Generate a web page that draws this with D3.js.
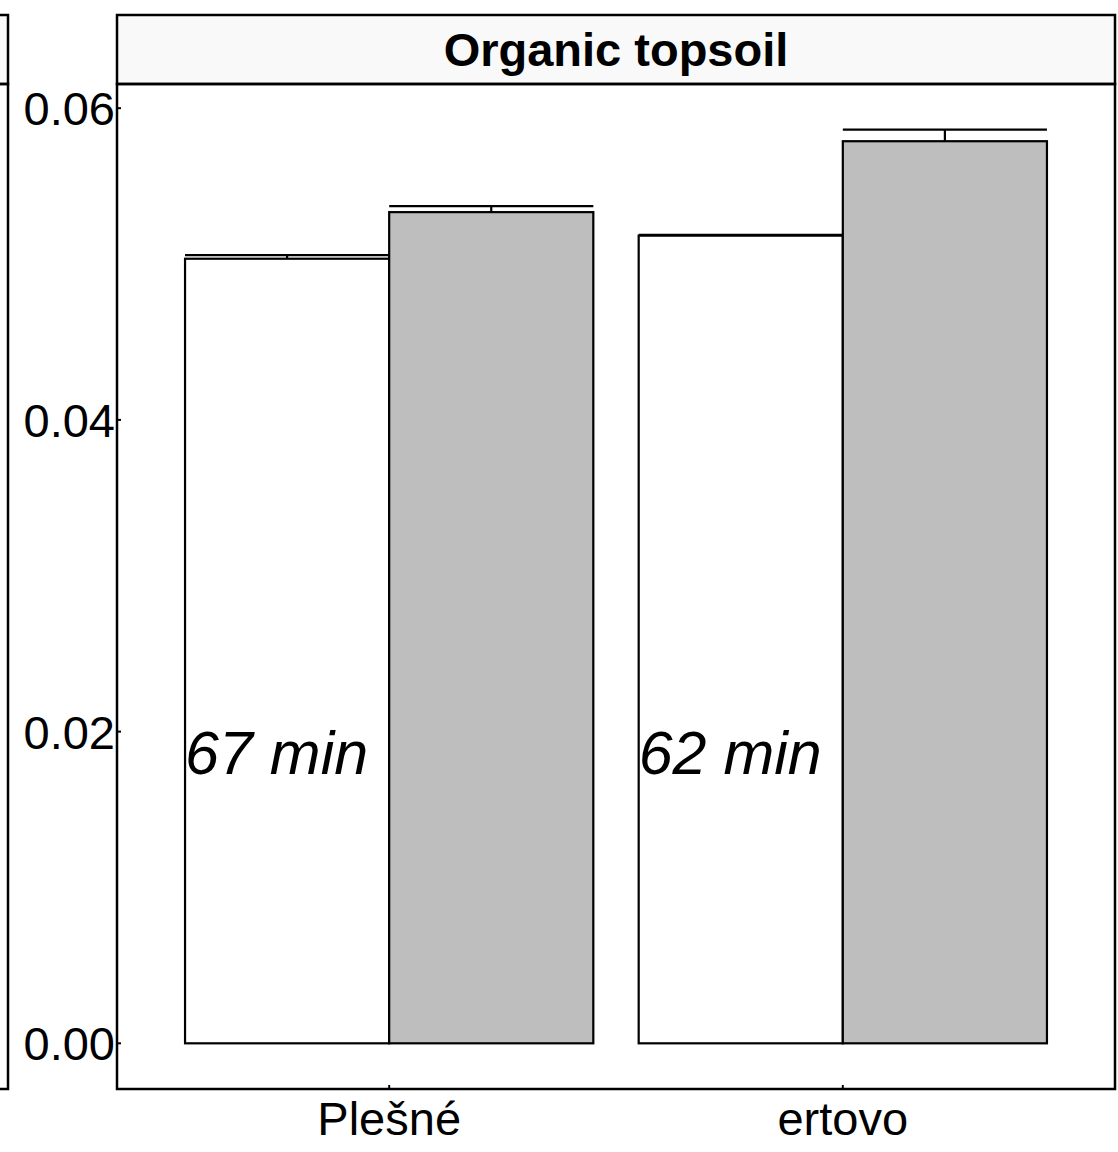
<!DOCTYPE html>
<html>
<head>
<meta charset="utf-8">
<script src="https://cdn.jsdelivr.net/npm/d3@7"></script>
<style>
  html, body { margin: 0; padding: 0; background: #fff; }
  svg { display: block; }
  text { font-family: "Liberation Sans", Arial, Helvetica, sans-serif; fill: #000; }
</style>
</head>
<body>
<svg id="chart" width="1118" height="1152"></svg>
<script>
// Sites on the x axis and the two dodged series per site
const sites = ["Plešné", "ertovo"];
const meansFirst = [0.05034, 0.05182];   // white bars
const seFirst = [0.00023, 0.00006];
const meansSecond = [0.05333, 0.05788];  // grey bars
const seSecond = [0.00038, 0.00074];
const durations = ["67 min", "62 min"];
const durationY = 0.0173;
const yTicks = [0, 0.02, 0.04, 0.06];
const yTickLabels = ["0.00", "0.02", "0.04", "0.06"];
const panelTitle = "Organic topsoil";
const fills = ["#ffffff", "#bebebe"];

const svg = d3.select("#chart");

// Panel geometry
const panel = { left: 117, right: 1115, top: 84, bottom: 1089 };
const strip = { top: 15, bottom: 84 };

// Build the rows that the bars and error bars are drawn from
const rows = [];
sites.forEach((s, i) => {
  rows.push({ site: s, idx: i, series: 0, mean: meansFirst[i], se: seFirst[i] });
  rows.push({ site: s, idx: i, series: 1, mean: meansSecond[i], se: seSecond[i] });
});

const yMax = d3.max(rows, d => d.mean + d.se);
const y = d3.scaleLinear()
  .domain([-0.05 * yMax, 1.05 * yMax])
  .range([panel.bottom, panel.top]);

// Discrete x positions 1..n with 0.6 units of padding on each side
const x = d3.scaleLinear()
  .domain([0.4, sites.length + 0.6])
  .range([panel.left, panel.right]);
const barW = 0.45;

// Dodged bar extents in data units
const pos0 = d => d.idx + 1 + (d.series === 0 ? -barW : 0);
const xLeft = d => x(pos0(d));
const xRight = d => x(pos0(d) + barW);
const xCenter = d => x(pos0(d) + barW / 2);

// Neighbouring facet (only its right edge is visible)
svg.append("rect")
  .attr("x", -100).attr("y", strip.top)
  .attr("width", 108).attr("height", strip.bottom - strip.top)
  .attr("fill", "#f9f9f9").attr("stroke", "#000").attr("stroke-width", 2.5);
svg.append("rect")
  .attr("x", -100).attr("y", panel.top)
  .attr("width", 108).attr("height", panel.bottom - panel.top)
  .attr("fill", "none").attr("stroke", "#000").attr("stroke-width", 2.5);

// Strip with facet title
svg.append("rect")
  .attr("x", panel.left).attr("y", strip.top)
  .attr("width", panel.right - panel.left).attr("height", strip.bottom - strip.top)
  .attr("fill", "#f9f9f9").attr("stroke", "#000").attr("stroke-width", 2.5);
svg.append("text")
  .attr("x", (panel.left + panel.right) / 2)
  .attr("y", (strip.top + strip.bottom) / 2)
  .attr("dy", "0.36em")
  .attr("text-anchor", "middle")
  .attr("font-weight", "bold")
  .attr("font-size", 47)
  .text(panelTitle);

// Error bars (the lower half sits behind the bars)
const eb = svg.append("g").attr("stroke", "#000").attr("stroke-width", 2.2).attr("fill", "none");
eb.selectAll("line.stem").data(rows).join("line").attr("class", "stem")
  .attr("x1", xCenter).attr("x2", xCenter)
  .attr("y1", d => y(d.mean - d.se)).attr("y2", d => y(d.mean + d.se));
eb.selectAll("line.cap").data(rows).join("line").attr("class", "cap")
  .attr("x1", xLeft).attr("x2", xRight)
  .attr("y1", d => y(d.mean + d.se)).attr("y2", d => y(d.mean + d.se));

// Bars
svg.append("g").selectAll("rect").data(rows).join("rect")
  .attr("x", xLeft)
  .attr("width", d => xRight(d) - xLeft(d))
  .attr("y", d => y(d.mean))
  .attr("height", d => y(0) - y(d.mean))
  .attr("fill", d => fills[d.series])
  .attr("stroke", "#000").attr("stroke-width", 2.2);

// Duration labels inside the white bars
svg.append("g").selectAll("text").data(durations).join("text")
  .attr("x", (d, i) => x(i + 1 - barW))
  .attr("y", y(durationY))
  .attr("font-style", "italic")
  .attr("font-size", 61)
  .text(d => d);

// Panel border
svg.append("rect")
  .attr("x", panel.left).attr("y", panel.top)
  .attr("width", panel.right - panel.left).attr("height", panel.bottom - panel.top)
  .attr("fill", "none").attr("stroke", "#000").attr("stroke-width", 2.5);

// Y axis: short inward ticks and labels
const yAxis = svg.append("g");
yAxis.selectAll("line").data(yTicks).join("line")
  .attr("x1", panel.left).attr("x2", panel.left + 4)
  .attr("y1", d => y(d)).attr("y2", d => y(d))
  .attr("stroke", "#000").attr("stroke-width", 2);
yAxis.selectAll("text").data(yTicks).join("text")
  .attr("x", panel.left - 2)
  .attr("y", d => y(d))
  .attr("dy", "0.36em")
  .attr("text-anchor", "end")
  .attr("font-size", 47)
  .text((d, i) => yTickLabels[i]);

// X axis: short inward ticks and site labels
const xAxis = svg.append("g");
xAxis.selectAll("line").data(sites).join("line")
  .attr("x1", (d, i) => x(i + 1)).attr("x2", (d, i) => x(i + 1))
  .attr("y1", panel.bottom - 4).attr("y2", panel.bottom)
  .attr("stroke", "#000").attr("stroke-width", 2);
xAxis.selectAll("text").data(sites).join("text")
  .attr("x", (d, i) => x(i + 1))
  .attr("y", panel.bottom + 46)
  .attr("text-anchor", "middle")
  .attr("font-size", 47)
  .text(d => d);
</script>
</body>
</html>
